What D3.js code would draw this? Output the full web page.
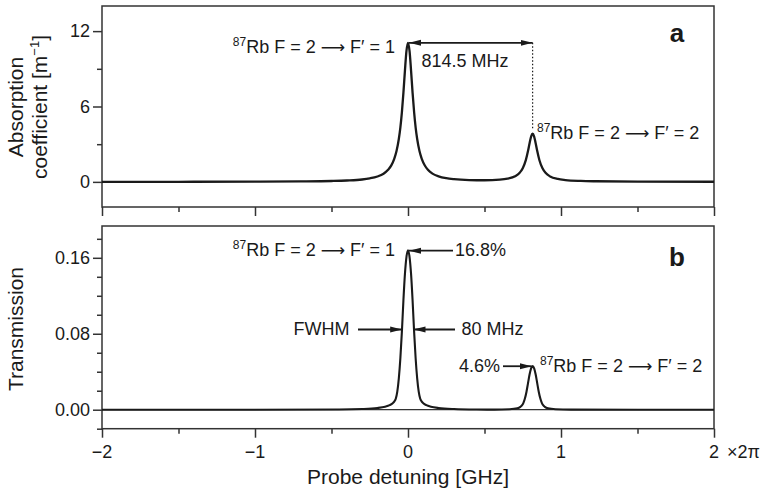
<!DOCTYPE html>
<html><head><meta charset="utf-8">
<script src="https://cdn.jsdelivr.net/npm/d3@7"></script>
<style>
html,body{margin:0;padding:0;background:#fff;}
svg text{font-family:"Liberation Sans",Arial,sans-serif;fill:#1a1a1a;}
</style></head>
<body>
<svg id="chart" width="762" height="491"></svg>
<script>
// ---- data ----
const xAbs = [-2,-1.5,-1,-0.7,-0.5,-0.4,-0.3,-0.25,-0.2,-0.16,-0.13,-0.11,-0.09,-0.075,-0.06,-0.05,-0.04,-0.03,-0.02,-0.01,0,
  0.01,0.02,0.03,0.04,0.05,0.06,0.075,0.09,0.11,0.13,0.16,0.2,0.25,0.3,0.4,0.5,0.6,0.65,0.7,0.73,0.75,0.77,0.785,0.795,0.805,0.8145,
  0.824,0.834,0.844,0.859,0.879,0.899,0.929,0.979,1.029,1.129,1.229,1.5,2];
const absorption = [0.004,0.008,0.018,0.036,0.07,0.11,0.19,0.28,0.43,0.65,0.958,1.29,1.83,2.45,3.41,4.32,5.54,7.08,8.86,10.42,11.07,
  10.42,8.86,7.08,5.54,4.32,3.41,2.45,1.83,1.30,0.965,0.66,0.442,0.295,0.216,0.145,0.13,0.177,0.254,0.449,0.729,1.087,1.73,2.49,3.10,3.63,3.83,
  3.63,3.10,2.49,1.72,1.08,0.718,0.433,0.23,0.145,0.075,0.048,0.021,0.009];

const xTrans = [-2,-1,-0.45,-0.3,-0.2,-0.15,-0.12,-0.1,-0.09,-0.08,-0.07,-0.06,-0.05,-0.04,-0.03,-0.02,-0.01,0,
  0.01,0.02,0.03,0.04,0.05,0.06,0.07,0.08,0.09,0.1,0.12,0.15,0.2,0.3,0.45,0.5645,0.6645,0.7145,0.7345,0.7445,0.7545,0.7645,0.7745,0.7845,0.7945,0.8045,0.8145,
  0.8245,0.8345,0.8445,0.8545,0.8645,0.8745,0.8845,0.8945,0.9145,0.9645,1.0645,1.5,2];
const transmission = [0,0,0.0002,0.0007,0.0018,0.0032,0.0048,0.0068,0.0085,0.0115,0.019,0.033,0.054,0.082,0.115,0.143,0.161,0.168,
  0.161,0.143,0.115,0.082,0.054,0.033,0.019,0.0115,0.0085,0.0068,0.0048,0.0032,0.0018,0.0007,0.0002,0.0001,0.0005,0.0015,0.003,0.0045,0.0072,0.012,0.019,0.028,0.037,0.0435,0.046,
  0.0435,0.037,0.028,0.019,0.012,0.0072,0.0045,0.003,0.0015,0.0005,0.0001,0,0];

const xMajorTicks = [-2,-1,0,1,2];
const xMajorLabels = ["\u22122","\u22121","0","1","2"];
const xMinorTicks = [-1.5,-0.5,0.5,1.5];
const yAMajor = [0,6,12];
const yAMajorLabels = ["0","6","12"];
const yAMinor = [3,9];
const yBMajor = [0,0.08,0.16];
const yBMajorLabels = ["0.00","0.08","0.16"];
const yBMinor = [-0.02,0.02,0.04,0.06,0.10,0.12,0.14,0.18];

// ---- layout ----
const svg = d3.select("#chart");
const L = 102, R = 714;
const A = {top:6, bottom:207};
const B = {top:226, bottom:428.7};
const x = d3.scaleLinear().domain([-2,2]).range([L,R]);
const yA = d3.scaleLinear().domain([-2,14]).range([A.bottom,A.top]);
const yB = d3.scaleLinear().domain([-0.02,0.1935]).range([B.bottom,B.top]);
const ink = "#1a1a1a", frame = "#333";

function panel(p, y, major, labels, minor){
  const g = svg.append("g");
  g.append("g").attr("transform",`translate(${L},0)`)
    .call(d3.axisLeft(y).tickValues(major).tickFormat((d,i)=>labels[i]).tickSize(9).tickPadding(3))
    .call(s=>{s.select(".domain").remove(); s.selectAll("line").attr("stroke",frame).attr("stroke-width",1.5);
      s.selectAll("text").style("font-size","18px").attr("fill",ink);});
  g.append("g").attr("transform",`translate(${L},0)`)
    .call(d3.axisLeft(y).tickValues(minor).tickFormat("").tickSize(5))
    .call(s=>{s.select(".domain").remove(); s.selectAll("line").attr("stroke",frame).attr("stroke-width",1.5);});
  g.append("g").attr("transform",`translate(0,${p.bottom})`)
    .call(d3.axisBottom(x).tickValues(xMajorTicks).tickFormat("").tickSize(9))
    .call(s=>{s.select(".domain").remove(); s.selectAll("line").attr("stroke",frame).attr("stroke-width",1.5);});
  g.append("g").attr("transform",`translate(0,${p.bottom})`)
    .call(d3.axisBottom(x).tickValues(xMinorTicks).tickFormat("").tickSize(5))
    .call(s=>{s.select(".domain").remove(); s.selectAll("line").attr("stroke",frame).attr("stroke-width",1.5);});
  g.append("rect").attr("x",L).attr("y",p.top).attr("width",R-L).attr("height",p.bottom-p.top)
    .attr("fill","none").attr("stroke",frame).attr("stroke-width",1.5);
}
panel(A, yA, yAMajor, yAMajorLabels, yAMinor);
panel(B, yB, yBMajor, yBMajorLabels, yBMinor);

// zero line in panel b
svg.append("line").attr("x1",L).attr("x2",R).attr("y1",yB(0)).attr("y2",yB(0))
  .attr("stroke",frame).attr("stroke-width",1.3);

// curves
const lineA = d3.line().x((d,i)=>x(xAbs[i])).y(d=>yA(d)).curve(d3.curveMonotoneX);
svg.append("path").attr("d",lineA(absorption)).attr("fill","none").attr("stroke",ink).attr("stroke-width",2.3).attr("stroke-linejoin","round");
const lineB = d3.line().x((d,i)=>x(xTrans[i])).y(d=>yB(d)).curve(d3.curveMonotoneX);
svg.append("path").attr("d",lineB(transmission)).attr("fill","none").attr("stroke",ink).attr("stroke-width",2.1).attr("stroke-linejoin","round");

// x tick labels
svg.append("g").selectAll("text").data(xMajorTicks).join("text")
  .attr("x",d=>x(d)).attr("y",458).attr("text-anchor","middle").style("font-size","18px")
  .text((d,i)=>xMajorLabels[i]);
svg.append("text").attr("x",727).attr("y",458).style("font-size","18px").text("\u00d72\u03c0");
svg.append("text").attr("x",(L+R)/2).attr("y",484).attr("text-anchor","middle").style("font-size","21px").text("Probe detuning [GHz]");

// y titles
svg.append("text").attr("transform","translate(23,107) rotate(-90)").attr("text-anchor","middle").style("font-size","21px").text("Absorption");
const t2 = svg.append("text").attr("transform","translate(47,107) rotate(-90)").attr("text-anchor","middle").style("font-size","21px");
t2.append("tspan").text("coefficient [m");
t2.append("tspan").attr("dy",-8).style("font-size","13px").text("\u22121");
t2.append("tspan").attr("dy",8).text("]");
svg.append("text").attr("transform","translate(23,329) rotate(-90)").attr("text-anchor","middle").style("font-size","21px").text("Transmission");

// panel letters
svg.append("text").attr("x",677).attr("y",41.5).attr("text-anchor","middle").style("font-size","26px").style("font-weight","bold").text("a");
svg.append("text").attr("x",677).attr("y",265.5).attr("text-anchor","middle").style("font-size","26px").style("font-weight","bold").text("b");

// labels
function rbLabel(xPos, yBase, fp, anchor){
  const t = svg.append("text").attr("x",xPos).attr("y",yBase).attr("text-anchor",anchor).style("font-size","18px");
  t.append("tspan").style("font-size","12px").attr("dy",-7).text("87");
  t.append("tspan").attr("dy",7).text("Rb F = 2 ");
  t.append("tspan").style("font-family","'DejaVu Sans'").style("font-size","17px").text("\u27f6");
  t.append("tspan").text(" F\u2032 = " + fp);
}
rbLabel(395, 52.5, "1", "end");
rbLabel(537, 138.5, "2", "start");
rbLabel(395, 255.7, "1", "end");
rbLabel(540, 371.7, "2", "start");

svg.append("text").attr("x",421.5).attr("y",67.3).style("font-size","18px").text("814.5 MHz");
svg.append("text").attr("x",455).attr("y",255.7).style("font-size","18px").text("16.8%");
svg.append("text").attr("x",349.5).attr("y",335).attr("text-anchor","end").style("font-size","18px").text("FWHM");
svg.append("text").attr("x",461.5).attr("y",335).style("font-size","18px").text("80 MHz");
svg.append("text").attr("x",500).attr("y",372.3).attr("text-anchor","end").style("font-size","18px").text("4.6%");

// arrows
const defs = svg.append("defs");
defs.append("marker").attr("id","ah").attr("viewBox","0 0 12 8").attr("refX",12).attr("refY",4)
  .attr("markerWidth",12).attr("markerHeight",8).attr("markerUnits","userSpaceOnUse").attr("orient","auto-start-reverse")
  .append("path").attr("d","M0,1 L12,4 L0,7 Z").attr("fill",ink);
function arrow(x1,y1,x2,y2,both){
  const l = svg.append("line").attr("x1",x1).attr("y1",y1).attr("x2",x2).attr("y2",y2)
    .attr("stroke",ink).attr("stroke-width",1.8).attr("marker-end","url(#ah)");
  if(both) l.attr("marker-start","url(#ah)");
}
const p1 = x(0), p2 = x(0.8145);
arrow(p1+1, yA(11.07), p2, yA(11.07), true);
svg.append("line").attr("x1",p2).attr("x2",p2).attr("y1",yA(11.07)).attr("y2",yA(4.2))
  .attr("stroke",ink).attr("stroke-width",1.2).attr("stroke-dasharray","1.5,2");
arrow(453, yB(0.1675), p1+1, yB(0.1675), false);
arrow(358, yB(0.0845), x(-0.038), yB(0.0845), false);
arrow(455, yB(0.0845), x(0.036), yB(0.0845), false);
arrow(503, yB(0.0458), p2-1, yB(0.0458), false);
</script>
</body></html>
